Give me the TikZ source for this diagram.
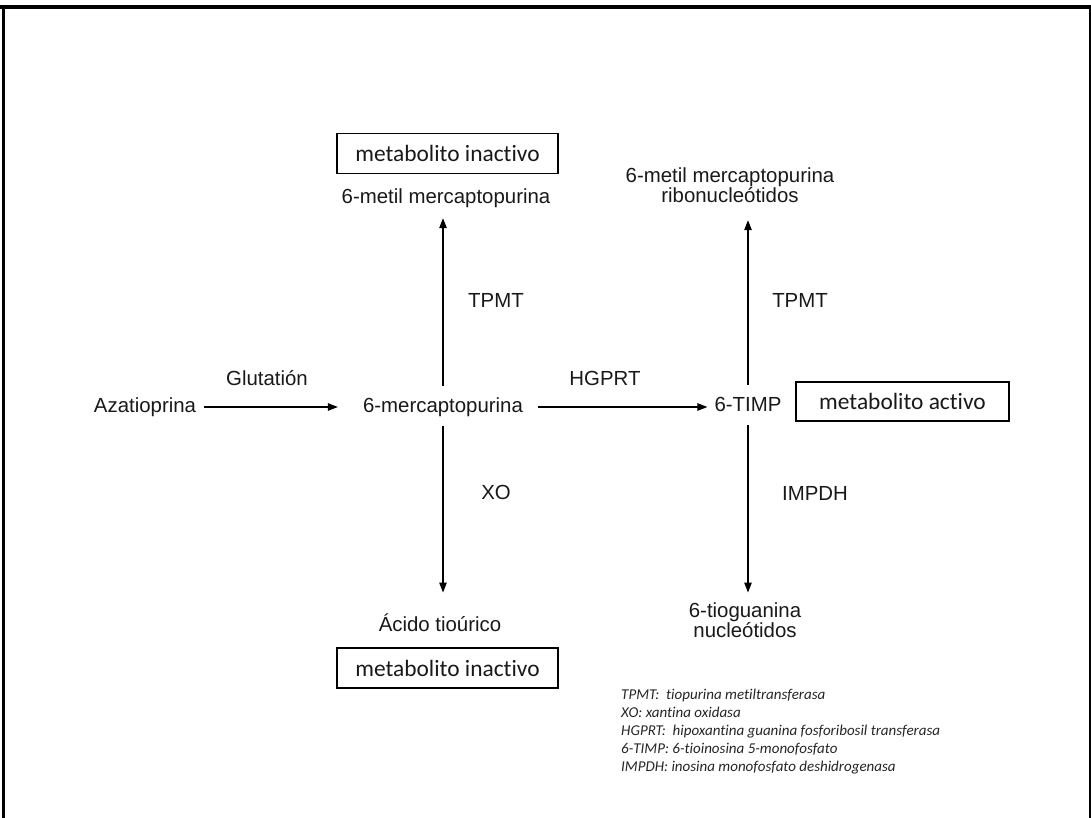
\documentclass[tikz,border=0pt]{standalone}
\usepackage{fontspec}
\setmainfont{Liberation Sans}
\newfontfamily\carl[Ligatures=NoCommon]{Carlito}
\usetikzlibrary{arrows.meta}
\begin{document}
\begin{tikzpicture}[x=1pt,y=-1pt,
  lbl/.style={inner sep=0pt,text height=14.6pt,text depth=0pt,font=\fontsize{20.4}{24}\selectfont,text=black!90},
  box/.style={draw,line width=1.3pt,inner sep=0pt,minimum width=221pt,minimum height=40pt,font=\carl\fontsize{23.4}{28}\selectfont,text=black!90},
  leg/.style={anchor=base west,inner sep=0pt,font=\carl\itshape\fontsize{15}{18}\selectfont,text=black!85},
  arr/.style={line width=1.2pt,-{Triangle[length=10pt,width=7.5pt]}}]
\useasboundingbox (0,0) rectangle (1091,818);
\fill[white] (0,0) rectangle (1091,818);
% frame
\draw[line width=4pt] (0,7) -- (1091,7);
\draw[line width=3.5pt] (3.5,5) -- (3.5,818);
\draw[line width=2pt] (1089.5,5) -- (1089.5,818);
% main nodes
\node[lbl] (aza) at (145,405) {Azatioprina};
\node[lbl] (mp) at (443,405) {6-mercaptopurina};
\node[lbl] (timp) at (748,404) {6-TIMP};
\node[box,minimum width=213pt,minimum height=39pt] (act) at (902.5,401.5) {metabolito activo};
\node[lbl] (mmp) at (446,196) {6-metil mercaptopurina};
\node[box] (inact1) at (447.5,153.5) {metabolito inactivo};
\node[lbl] (mmr1) at (730,175) {6-metil mercaptopurina};
\node[lbl] (mmr2) at (730,195) {ribonucleótidos};
\node[lbl] (atu) at (440,624) {Ácido tioúrico};
\node[box] (inact2) at (447.5,668) {metabolito inactivo};
\node[lbl] (tg1) at (745,610) {6-tioguanina};
\node[lbl] (tg2) at (745,630) {nucleótidos};
% enzyme labels
\node[lbl] (glut) at (267,378) {Glutatión};
\node[lbl] (hgprt) at (605,378) {HGPRT};
\node[lbl] (tpmt1) at (496,300) {TPMT};
\node[lbl] (xo) at (496,492) {XO};
\node[lbl] (tpmt2) at (800,300) {TPMT};
\node[lbl] (impdh) at (815,493) {IMPDH};
% arrows
\draw[arr] ([xshift=8pt,yshift=-2pt]aza.east) -- ([xshift=-25pt,yshift=-2pt]mp.west);
\draw[arr] ([xshift=15pt,yshift=-2pt]mp.east) -- ([xshift=-7pt,yshift=-3pt]timp.west);
\draw[arr] ([yshift=12pt]mp.north) -- ([yshift=-14.7pt]mp.north |- mmp.south);
\draw[arr] ([yshift=-13pt]mp.south) -- ([yshift=24pt]mp.south |- atu.north);
\draw[arr] ([yshift=12pt]timp.north) -- ([yshift=-17.7pt]timp.north |- mmr2.south);
\draw[arr] ([yshift=-13pt]timp.south) -- ([yshift=10pt]timp.south |- tg1.north);
% legend
\node[leg] (l1) at (621,699) {TPMT:\ \ tiopurina metiltransferasa};
\node[leg] (l2) at (621,717) {XO: xantina oxidasa};
\node[leg] (l3) at (621,735) {HGPRT:\ \ hipoxantina guanina fosforibosil transferasa};
\node[leg] (l4) at (621,753) {6-TIMP:\ 6-tioinosina 5-monofosfato};
\node[leg] (l5) at (621,771) {IMPDH:\ inosina monofosfato deshidrogenasa};
\end{tikzpicture}
\end{document}
